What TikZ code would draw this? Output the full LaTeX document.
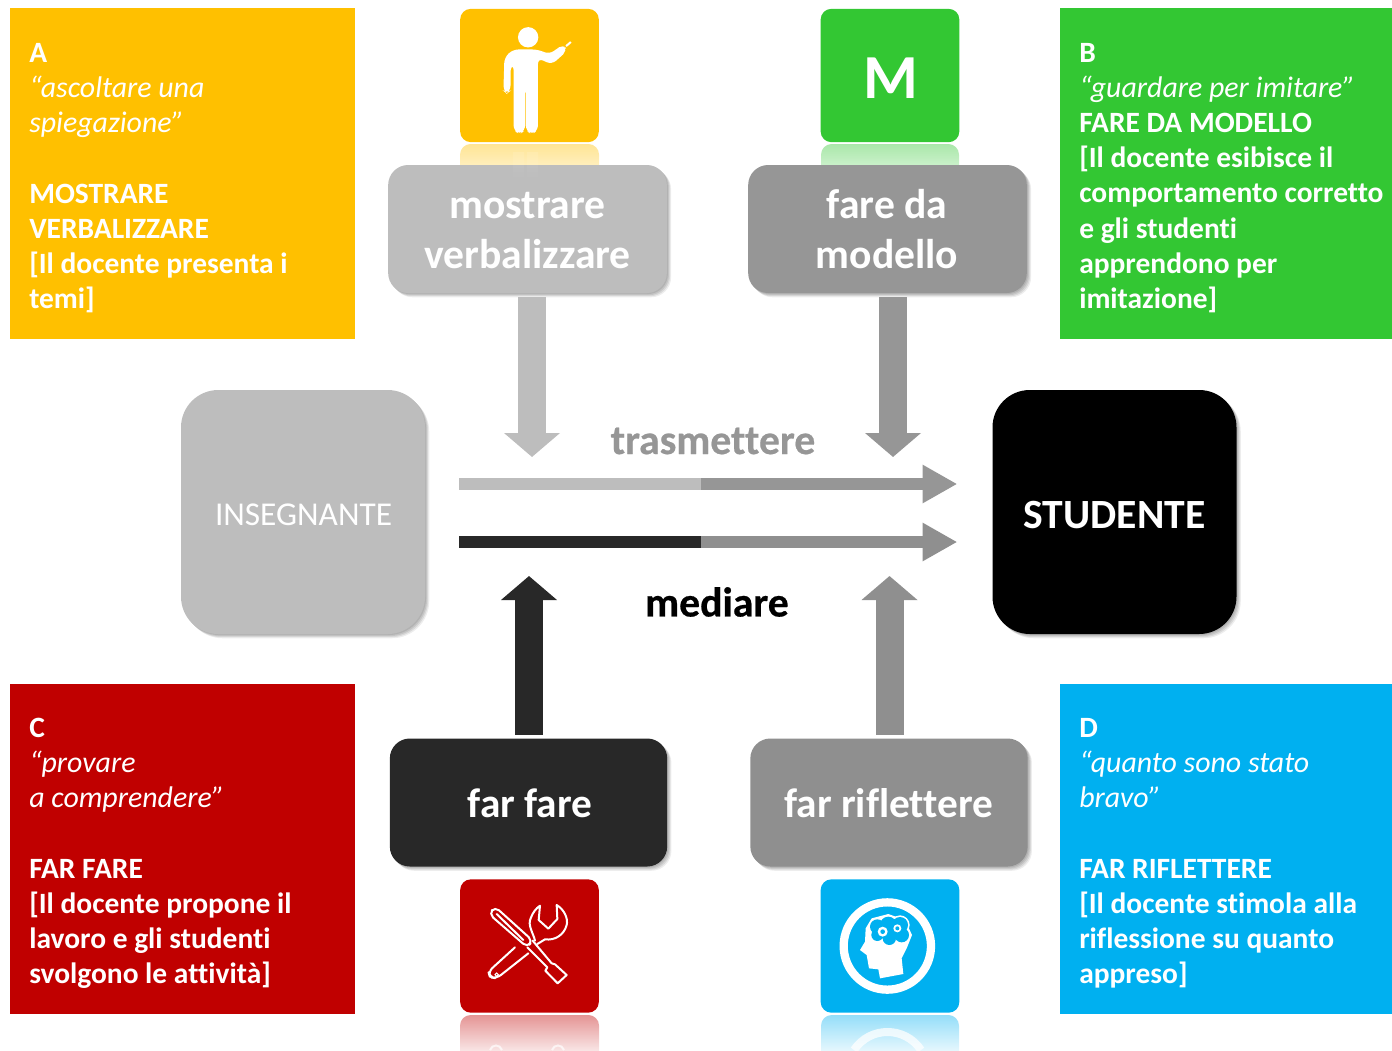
\documentclass[tikz,border=0pt]{standalone}
\usepackage{fontspec}
\setmainfont[RawFeature=-liga]{Carlito}
\newfontfamily\heavy[RawFeature=-liga,BoldFeatures={FakeBold=0.5}]{Carlito}
\newcommand\itl[1]{{\fontsize{22.4}{26.36}\selectfont\itshape #1}}
\usetikzlibrary{arrows.meta,shadows,fadings}
\definecolor{cyellow}{HTML}{FFC000}
\definecolor{cgreen}{HTML}{33C733}
\definecolor{cred}{HTML}{C00000}
\definecolor{cblue}{HTML}{00B0F0}
\definecolor{glight}{HTML}{BDBDBD}
\definecolor{gmid}{HTML}{969696}
\definecolor{gdark}{HTML}{282828}
\definecolor{griff}{HTML}{8F8F8F}
\tikzset{
  softshadow/.style={
    general shadow={fill=black,opacity=.09,shadow xshift=.8pt,shadow yshift=-.8pt},
    general shadow={fill=black,opacity=.09,shadow xshift=1.6pt,shadow yshift=-1.6pt},
    general shadow={fill=black,opacity=.09,shadow xshift=2.4pt,shadow yshift=-2.4pt},
    general shadow={fill=black,opacity=.07,shadow xshift=3.2pt,shadow yshift=-3.2pt}},
  infobox/.style={rectangle,inner sep=0pt,minimum width=#1,anchor=north west},
  infotext/.style={inner sep=0pt,anchor=north west,align=left,text=white,font=\fontsize{22.1}{26.36}\selectfont},
  tile/.style={rectangle,rounded corners=8pt,inner sep=0pt,minimum width=104pt,minimum height=100pt},
  actionbox/.style={rectangle,rounded corners=15pt,inner sep=0pt,minimum width=209pt,minimum height=96pt,softshadow},
  actiontext/.style={inner sep=0pt,align=center,text=white,font=\fontsize{31.2}{37.5}\selectfont\bfseries},
  rolebox/.style={rectangle,rounded corners=28pt,inner sep=0pt,minimum width=183pt,minimum height=183pt,softshadow,
    text=white},
  blockarrow/.style={line width=21pt,-{Triangle[length=18pt,width=41pt]}},
  flowline/.style={line width=9pt},
  flowarrow/.style={line width=9pt,-{Triangle[length=26pt,width=27pt]}},
  refl/.style={rounded corners=8pt,path fading=south,fill=#1,opacity=.42},
  iconline/.style={draw=white,line width=1.5pt,line join=round,line cap=round},
}
\begin{document}
\begin{tikzpicture}[x=.75pt,y=-.75pt]
\useasboundingbox (0,0) rectangle (1392,1050);
% reflections
\fill[refl=cyellow] (460,200) -- (460,144) -- (599,144) -- (599,200) -- cycle;
\fill[refl=cgreen] (821,200) -- (821,144) -- (959,144) -- (959,200) -- cycle;
\fill[refl=cred] (460,1062) -- (460,1015) -- (599,1015) -- (599,1062) -- cycle;
\fill[refl=cblue] (821,1062) -- (821,1015) -- (959,1015) -- (959,1062) -- cycle;
\draw[white,line width=6pt,opacity=.75] (854,1050) .. controls (870,1026) and (905,1026) .. (921,1050);
\draw[white,line width=1.5pt,opacity=.7] (490,1050) .. controls (492,1044) and (500,1044) .. (502,1050);
\draw[white,line width=1.5pt,opacity=.7] (552,1050) .. controls (554,1044) and (562,1044) .. (564,1050);
% info boxes
\node[infobox=258.75pt,minimum height=248.25pt,fill=cyellow] (boxA) at (10,8) {};
\node[infobox=249pt,minimum height=248.25pt,fill=cgreen] (boxB) at (1060,8) {};
\node[infobox=258.75pt,minimum height=247.5pt,fill=cred] (boxC) at (10,684) {};
\node[infobox=249pt,minimum height=247.5pt,fill=cblue] (boxD) at (1060,684) {};
\node[infotext] (textA) at (29,43) {\textbf{A}\\\itl{“ascoltare una}\\\itl{spiegazione”}\\[26.6pt]\textbf{MOSTRARE}\\\textbf{VERBALIZZARE}\\\textbf{[Il docente presenta i}\\\textbf{temi]}};
\node[infotext] (textB) at (1079,43) {\textbf{B}\\\itl{“guardare per imitare”}\\\textbf{FARE DA MODELLO}\\\textbf{[Il docente esibisce il}\\\textbf{comportamento corretto}\\\textbf{e gli studenti}\\\textbf{apprendono per}\\\textbf{imitazione]}};
\node[infotext] (textC) at (29,718) {\textbf{C}\\\itl{“provare}\\\itl{a comprendere”}\\[26.6pt]\textbf{FAR FARE}\\\textbf{[Il docente propone il}\\\textbf{lavoro e gli studenti}\\\textbf{svolgono le attività]}};
\node[infotext] (textD) at (1079,718) {\textbf{D}\\\itl{“quanto sono stato}\\\itl{bravo”}\\[26.6pt]\textbf{FAR RIFLETTERE}\\\textbf{[Il docente stimola alla}\\\textbf{riflessione su quanto}\\\textbf{appreso]}};
% tiles
\node[tile,fill=cyellow] (tileY) at (529.5,75.5) {};
\node[tile,fill=cgreen] (tileG) at (890,75.5) {};
\node[inner sep=0pt,text=white,font=\fontsize{47}{50}\selectfont\bfseries] (letterM) at (891,78.5) {M};
\node[tile,fill=cred] (tileR) at (529.5,946) {};
\node[tile,fill=cblue] (tileB) at (890,946) {};
% person icon
\begin{scope}[shift={(440,0)},scale=.339]
\fill[white] (260,110) circle (30);
\fill[white,rounded corners=4pt] (187,268) -- (190,170) -- (215,146) -- (289,146) -- (322,160) -- (365,130) -- (375,150) -- (330,190) -- (289,172) -- (289,385) -- (270,396) -- (253,385) -- (253,258) -- (251,258) -- (251,385) -- (235,396) -- (217,385) -- (217,190) -- (208,195) -- (208,268) -- (197,276) -- cycle;
\draw[white,line width=1.5pt] (372,136) -- (386,124);
\end{scope}
% tools icon
\begin{scope}[shift={(440,870)},scale=1/3]
\draw[iconline,rounded corners=4pt] (147,132) -- (165,110) -- (278,212) -- (262,232) -- cycle;
\draw[iconline] (170,132) -- (250,210);
\draw[iconline] (262,232) -- (322,292) -- (316,302) -- (353,340) -- (380,315) -- (345,283) -- (335,280) -- (278,212);
\draw[iconline,rounded corners=4pt] (225,232) -- (145,305) -- (150,322) -- (170,325) -- (265,250);
\draw[white,line width=.8pt] (170,314) circle (5);
\draw[iconline] (285,212) .. controls (280,190) and (262,165) .. (272,145) .. controls (278,128) and (288,115) .. (300,107) -- (296,150) -- (325,176) -- (352,147) -- (350,105) .. controls (372,118) and (385,145) .. (380,165) .. controls (372,195) and (345,212) .. (315,208) -- (292,222);
\end{scope}
% head icon
\begin{scope}[shift={(800,870)},scale=1/3]
\draw[white,line width=6.2pt] (262,228) circle (131);
\fill[white] (240,325) -- (235,298) -- (207,295) -- (200,255) -- (180,240) -- (195,215) -- (197,175) -- (215,145) -- (265,132) -- (315,150) -- (336,195) -- (320,235) -- (305,265) -- (310,312) -- cycle;
\fill[white] (232,170) circle (27) (265,165) circle (30) (300,165) circle (29) (232,195) circle (23) (268,205) circle (25) (305,195) circle (27);
\fill[cblue] (232,170) circle (22) (265,165) circle (25) (300,165) circle (24) (232,195) circle (18) (268,205) circle (20) (305,195) circle (22) (265,185) circle (25);
\fill[white] (248,185) circle (15) (292,175) circle (12);
\fill[cblue] (248,185) circle (7) (292,175) circle (6);
\end{scope}
% action boxes
\node[actionbox,fill=glight] (mostrare) at (527.5,229) {};
\node[actionbox,fill=gmid] (modello) at (887.5,229) {};
\node[actionbox,minimum width=208pt,fill=gdark] (farfare) at (528.5,802.5) {};
\node[actionbox,minimum width=208pt,fill=griff] (riflettere) at (889,802.5) {};
\node[actiontext] (lmostrare) at (527.5,231) {mostrare\\verbalizzare};
\node[actiontext] (lmodello) at (887,229.5) {fare da\\modello};
\node[actiontext,font=\fontsize{31}{37}\selectfont\bfseries] (lfarfare) at (530,803.5) {far fare};
\node[actiontext,font=\fontsize{31}{37}\selectfont\bfseries] (lriflettere) at (889,803.5) {far riflettere};
% faint reflections seen through the upper boxes
\fill[white,opacity=.1,path fading=south] (513,152) rectangle (524,180) (527,152) rectangle (538,180);
% role boxes
\node[rolebox,fill=glight] (insegnante) at (303,512) {};
\node[rolebox,fill=black] (studente) at (1114.5,512) {};
\node[inner sep=0pt,text=white,font=\fontsize{25}{30}\selectfont] (linsegnante) at (303.5,515) {INSEGNANTE};
\node[inner sep=0pt,text=white,font=\fontsize{31.2}{36}\selectfont\bfseries] (lstudente) at (1114.5,515) {STUDENTE};
% labels
\node[inner sep=0pt,text=gmid,font=\heavy\fontsize{31.3}{36}\selectfont\bfseries] (trasm) at (713,441) {trasmettere};
\node[inner sep=0pt,text=black,font=\heavy\fontsize{31.3}{36}\selectfont\bfseries] (mediare) at (717,602) {mediare};
% connectors
\coordinate (tipA) at (532,457);
\coordinate (tipB) at (893,457);
\coordinate (tipC) at (529,576);
\coordinate (tipD) at (889.5,576);
\draw[blockarrow,glight] ([yshift=-3pt]mostrare.south -| tipA) -- (tipA);
\draw[blockarrow,gmid] ([yshift=-3pt]modello.south -| tipB) -- (tipB);
\draw[blockarrow,gdark] ([yshift=2.5pt]farfare.north -| tipC) -- (tipC);
\draw[blockarrow,griff] ([yshift=2.5pt]riflettere.north -| tipD) -- (tipD);
\coordinate (tm1) at (701,484);
\coordinate (mm1) at (701,542);
\draw[flowline,glight] (insegnante.east |- tm1) ++(34,0) -- (tm1);
\draw[flowarrow,gmid] (tm1) -- ([xshift=-26.2pt]studente.west |- tm1);
\draw[flowline,gdark] (insegnante.east |- mm1) ++(34,0) -- (mm1);
\draw[flowarrow,griff] (mm1) -- ([xshift=-26.2pt]studente.west |- mm1);
\end{tikzpicture}
\end{document}
